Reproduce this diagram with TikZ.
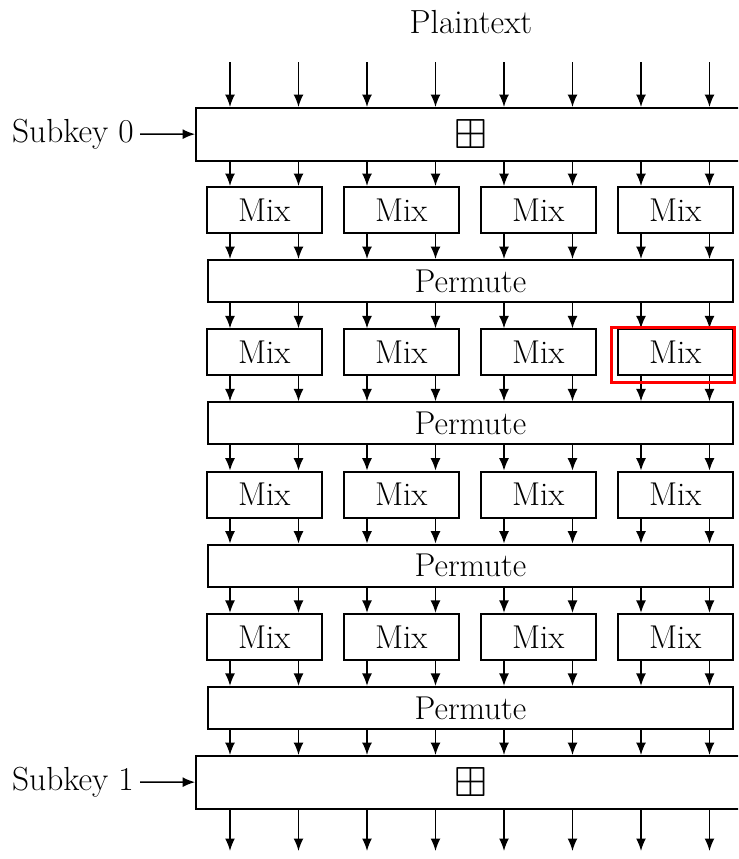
\documentclass[tikz,border=0pt]{standalone}
\usepackage{amssymb}
\usetikzlibrary{arrows.meta}

\tikzset{
  blk/.style={draw, line width=1.1pt, inner sep=0pt, font=\fontsize{18.8}{22}\selectfont},
  mixbox/.style={blk, minimum width=2.3cm, minimum height=0.92cm},
  permbox/.style={blk, minimum width=10.52cm, minimum height=0.84cm},
  keybox/.style={blk, minimum width=10.98cm, minimum height=1.06cm, font=\fontsize{24}{28}\selectfont},
  lbl/.style={font=\fontsize{19}{22}\selectfont},
  wire/.style={line width=0.9pt, -{Latex[length=0.25cm,width=0.2cm]}}
}

\begin{document}
\begin{tikzpicture}[x=0.02cm, y=-0.02cm]
  \useasboundingbox (0,0) rectangle (738,859);
  \clip (0,0) rectangle (738,859);

  % bit columns
  \foreach \i in {1,...,8}
    \coordinate (c\i) at ({161.5+68.5*\i},0);

  \node[lbl] (plain) at (471,22) {Plaintext};

  % first key addition
  \node[keybox] (key0) at (470.5,134.5) {$\boxplus$};
  \node[lbl, anchor=east] (sub0) at (140,134) {Subkey 0};
  \draw[wire] (sub0) -- (key0);

  % mix / permute rounds
  \foreach \r in {1,...,4} {
    \foreach \k in {1,...,4}
      \node[mixbox] (m\r\k) at ({127.25+137*\k},{210+142.3*(\r-1)}) {Mix};
    \node[permbox] (p\r) at (470.5,{281+142.3*(\r-1)}) {Permute};
  }

  % last key addition
  \node[keybox] (key1) at (470.5,782.5) {$\boxplus$};
  \node[lbl, anchor=east] (sub1) at (140,782) {Subkey 1};
  \draw[wire] (sub1) -- (key1);

  % wires
  \foreach \i [evaluate=\i as \k using {int((\i+1)/2)}] in {1,...,8} {
    \coordinate (t\i) at ({161.5+68.5*\i},62);
    \coordinate (b\i) at ({161.5+68.5*\i},851);
    \draw[wire] (t\i) -- (c\i |- key0.north);
    \draw[wire] (c\i |- key0.south) -- (c\i |- m1\k.north);
    \draw[wire] (c\i |- m1\k.south) -- (c\i |- p1.north);
    \draw[wire] (c\i |- p1.south) -- (c\i |- m2\k.north);
    \draw[wire] (c\i |- m2\k.south) -- (c\i |- p2.north);
    \draw[wire] (c\i |- p2.south) -- (c\i |- m3\k.north);
    \draw[wire] (c\i |- m3\k.south) -- (c\i |- p3.north);
    \draw[wire] (c\i |- p3.south) -- (c\i |- m4\k.north);
    \draw[wire] (c\i |- m4\k.south) -- (c\i |- p4.north);
    \draw[wire] (c\i |- p4.south) -- (c\i |- key1.north);
    \draw[wire] (c\i |- key1.south) -- (b\i);
  }

  % highlighted box
  \draw[red, line width=1.7pt]
    ([xshift=-0.1cm,yshift=-0.12cm]m24.south west) rectangle ([xshift=0.02cm,yshift=0.02cm]m24.north east);
\end{tikzpicture}
\end{document}
